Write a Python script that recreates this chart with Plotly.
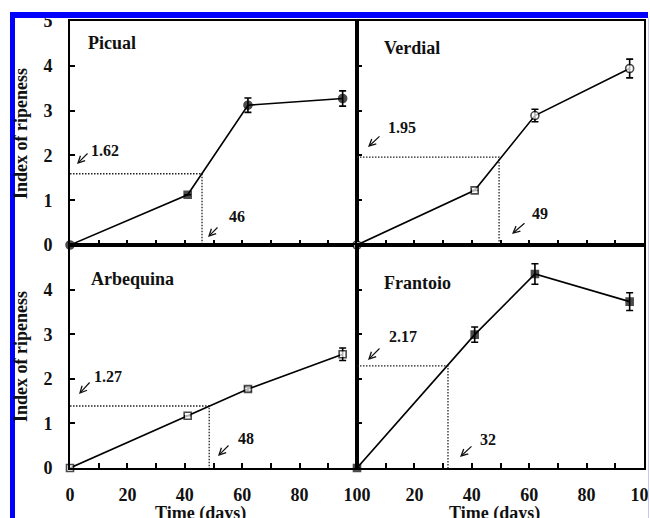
import plotly.graph_objects as go
from plotly.subplots import make_subplots

# ---------------- data ----------------
days = [0, 41, 62, 95]
cultivars = ["Picual", "Verdial", "Arbequina", "Frantoio"]

picual = [0, 1.12, 3.12, 3.27]
picual_err = [None, None, 0.16, 0.17]
verdial = [0, 1.22, 2.89, 3.94]
verdial_err = [None, None, 0.14, 0.21]
arbequina = [0, 1.17, 1.77, 2.55]
arbequina_err = [None, None, 0.05, 0.14]
frantoio = [0, 2.99, 4.35, 3.73]
frantoio_err = [None, 0.17, 0.23, 0.20]

picual_sym = ["circle", "square", "circle", "circle"]
verdial_sym = ["circle", "square", "circle", "circle"]
arbequina_sym = ["square", "square", "square", "square"]
frantoio_sym = ["square", "square", "square", "square"]
picual_fill = ["black"] * 4
verdial_fill = ["white"] * 4
arbequina_fill = ["white"] * 4
frantoio_fill = ["black"] * 4

# dotted guide lines (day, index) as drawn, and their printed labels
guide_day = [46, 49.5, 48.5, 31.7]
guide_index = [1.59, 1.96, 1.39, 2.29]
index_labels = ["1.62", "1.95", "1.27", "2.17"]
day_labels = ["46", "49", "48", "32"]

x_tickvals = [0, 10, 20, 30, 40, 50, 60, 70, 80, 90, 100]
x_ticktext_left = ["0", "", "20", "", "40", "", "60", "", "80", "", "100"]
x_ticktext_right = ["", "", "20", "", "40", "", "60", "", "80", "", "100"]
y_tickvals_top = [0, 1, 2, 3, 4, 5]
y_tickvals_bottom = [0, 1, 2, 3, 4]

# ---------------- geometry helpers (layout only) ----------------
W, H = 650, 518
L, R, T, B = 70, 644, 21, 468
def pxx(x):
    return (x - L) / (R - L)
def pxy(y):
    return (B - y) / (B - T)

FONT = "Liberation Serif, Times New Roman, serif"

fig = make_subplots(rows=2, cols=2, horizontal_spacing=0, vertical_spacing=0)

series = [
    (picual, picual_err, picual_sym, picual_fill, 1, 1),
    (verdial, verdial_err, verdial_sym, verdial_fill, 1, 2),
    (arbequina, arbequina_err, arbequina_sym, arbequina_fill, 2, 1),
    (frantoio, frantoio_err, frantoio_sym, frantoio_fill, 2, 2),
]

for i, (vals, err, sym, fill, r, c) in enumerate(series):
    gd, gi = guide_day[i], guide_index[i]
    fig.add_trace(go.Scatter(
        x=[0, gd, gd], y=[gi, gi, 0], mode="lines",
        line=dict(color="#222", width=1.3, dash="1.5px,1.5px"),
        showlegend=False, hoverinfo="skip", cliponaxis=False), row=r, col=c)
    fig.add_trace(go.Scatter(
        x=days, y=vals, mode="lines+markers",
        line=dict(color="black", width=1.6),
        marker=dict(symbol=sym, size=[8 if s == "circle" else 7 for s in sym],
                    color=fill, line=dict(color="black", width=1.6)),
        error_y=dict(type="data", array=err, color="black", thickness=1.6, width=3.5),
        showlegend=False, cliponaxis=False), row=r, col=c)

xdom_left = [0, pxx(357)]
xdom_right = [pxx(357), 1]
ydom_top = [pxy(245), 1]
ydom_bottom = [0, pxy(245)]

axis_common = dict(showline=True, linecolor="black", linewidth=2, mirror=True,
                   ticks="inside", ticklen=5, tickwidth=1.5, tickcolor="black",
                   showgrid=False, zeroline=False, automargin=False,
                   ticklabeloverflow="allow")
tickfont = dict(family=FONT, size=18, color="#111", weight="bold")

for (r, c) in [(1, 1), (1, 2), (2, 1), (2, 2)]:
    xd = xdom_left if c == 1 else xdom_right
    yd = ydom_top if r == 1 else ydom_bottom
    if r == 1:
        xt = dict(showticklabels=False)
    else:
        xt = dict(showticklabels=True,
                  ticktext=x_ticktext_left if c == 1 else x_ticktext_right,
                  ticklabelstandoff=9)
    fig.update_xaxes(range=[0, 100], domain=xd, tickmode="array", tickvals=x_tickvals,
                     tickfont=tickfont, **xt, **axis_common, row=r, col=c)
    fig.update_yaxes(range=[0, 5], domain=yd, tickmode="array",
                     tickvals=y_tickvals_top if r == 1 else y_tickvals_bottom,
                     showticklabels=(c == 1), ticklabelstandoff=12,
                     tickfont=tickfont, **axis_common, row=r, col=c)

annotations = []
# panel names
for name, (x, y) in zip(cultivars, [(86, 43), (382, 48), (89, 279), (382, 283)]):
    annotations.append(dict(text="<b>%s</b>" % name, x=pxx(x), y=pxy(y), xref="paper", yref="paper",
                            xanchor="left", yanchor="middle", showarrow=False,
                            font=dict(family=FONT, size=18, color="#111")))
# value labels
idx_pos = [(89, 150), (386, 128), (92, 376), (387, 336)]
day_pos = [(227, 217), (530, 213), (236, 438), (478, 439)]
for lab, (x, y) in zip(index_labels + day_labels, idx_pos + day_pos):
    annotations.append(dict(text="<b>%s</b>" % lab, x=pxx(x), y=pxy(y), xref="paper", yref="paper",
                            xanchor="left", yanchor="middle", showarrow=False,
                            font=dict(family=FONT, size=16, color="#111")))
# arrows (head, tail)
arrows = [((77, 164), (89, 152)), ((208, 237), (219, 226)),
          ((368, 147), (381, 135)), ((512, 234), (526, 222)),
          ((79, 394), (91, 381)), ((218, 456), (230, 444)),
          ((368, 360), (381, 347)), ((460, 457), (473, 445))]
for (hx, hy), (tx, ty) in arrows:
    annotations.append(dict(text="", x=pxx(hx), y=pxy(hy), xref="paper", yref="paper",
                            ax=tx - hx, ay=ty - hy, showarrow=True, arrowhead=5,
                            arrowsize=1.1, arrowwidth=1.2, arrowcolor="#111"))
# axis titles
for yc in [133, 356]:
    annotations.append(dict(text="<b>Index of ripeness</b>", x=pxx(21), y=pxy(yc),
                            xref="paper", yref="paper", textangle=-90,
                            xanchor="center", yanchor="middle", showarrow=False,
                            font=dict(family=FONT, size=18, color="#111")))
for xc in [200, 494]:
    annotations.append(dict(text="<b>Time (days)</b>", x=pxx(xc), y=pxy(513),
                            xref="paper", yref="paper",
                            xanchor="center", yanchor="middle", showarrow=False,
                            font=dict(family=FONT, size=18, color="#111")))

shapes = [
    dict(type="rect", xref="paper", yref="paper", x0=pxx(10), x1=pxx(648), y0=pxy(18), y1=pxy(12),
         fillcolor="#0000ff", line=dict(width=0), layer="above"),
    dict(type="rect", xref="paper", yref="paper", x0=pxx(10), x1=pxx(15), y0=pxy(520), y1=pxy(12),
         fillcolor="#0000ff", line=dict(width=0), layer="above"),
    dict(type="rect", xref="paper", yref="paper", x0=pxx(648), x1=pxx(651), y0=pxy(520), y1=pxy(12),
         fillcolor="#ffffff", line=dict(width=0), layer="above"),
    dict(type="rect", xref="paper", yref="paper", x0=pxx(648), x1=pxx(649), y0=pxy(520), y1=pxy(18),
         fillcolor="#c8c8f0", line=dict(width=0), layer="above"),
]

fig.update_layout(
    width=W, height=H, autosize=False,
    margin=dict(l=L, r=W - R, t=T, b=H - B, pad=0, autoexpand=False),
    paper_bgcolor="white", plot_bgcolor="white",
    annotations=annotations, shapes=shapes,
    font=dict(family=FONT, color="#111"),
)

fig.write_html("out.html")
